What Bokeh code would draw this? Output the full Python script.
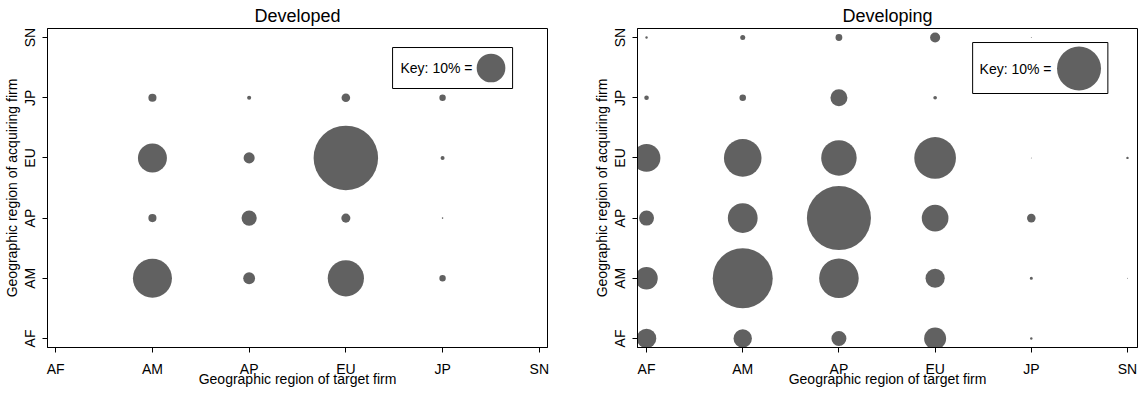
from bokeh.plotting import figure
from bokeh.layouts import row
from bokeh.models import Range1d, FixedTicker, BoxAnnotation, Label, ColumnDataSource
from bokeh.embed import file_html
from bokeh.resources import INLINE
import numpy as np

regions = ["AF", "AM", "AP", "EU", "JP", "SN"]

# Developed: target region (x), acquirer region (y), share of deals (%)
dev_target = ["AM", "AP", "EU", "JP",
              "AM", "AP", "EU", "JP",
              "AM", "AP", "EU", "JP",
              "AM", "AP", "EU", "JP"]
dev_acquirer = ["JP", "JP", "JP", "JP",
                "EU", "EU", "EU", "EU",
                "AP", "AP", "AP", "AP",
                "AM", "AM", "AM", "AM"]
dev_share = [0.8, 0.2, 0.9, 0.5,
             10.2, 1.5, 50.5, 0.2,
             0.8, 2.8, 1.0, 0.03,
             18.5, 1.7, 15.9, 0.5]

# Developing
dvg_target = ["AF", "AM", "AP", "EU", "JP",
              "AF", "AM", "AP", "EU",
              "AF", "AM", "AP", "EU", "JP", "SN",
              "AF", "AM", "AP", "EU", "JP",
              "AF", "AM", "AP", "EU", "JP", "SN",
              "AF", "AM", "AP", "EU", "JP"]
dvg_acquirer = ["SN", "SN", "SN", "SN", "SN",
                "JP", "JP", "JP", "JP",
                "EU", "EU", "EU", "EU", "EU", "EU",
                "AP", "AP", "AP", "AP", "AP",
                "AM", "AM", "AM", "AM", "AM", "AM",
                "AF", "AF", "AF", "AF", "AF"]
dvg_share = [0.03, 0.13, 0.24, 0.52, 0.005,
             0.11, 0.22, 1.49, 0.07,
             3.96, 7.3, 6.5, 8.98, 0.005, 0.03,
             1.16, 4.59, 21.2, 3.68, 0.38,
             2.6, 18.6, 8.1, 1.9, 0.05, 0.005,
             1.96, 1.75, 1.16, 2.5, 0.03]

key_share = 10
key_label = "Key: 10% ="
x_title = "Geographic region of target firm"
y_title = "Geographic region of acquiring firm"

FONT = "Liberation Sans"
BUBBLE = "#616161"


def panel(title, target, acquirer, share, key_d, xr, key_box, key_text, key_pt,
          bl, br):
    p = figure(frame_width=500, frame_height=319,
               x_range=Range1d(*xr), y_range=Range1d(-0.15, 5.15),
               output_backend="svg", toolbar_location=None,
               min_border_left=bl, min_border_right=br,
               min_border_top=28, min_border_bottom=37)
    p.title.text = title
    p.title.text_font = FONT
    p.title.text_font_size = "18px"
    p.title.text_font_style = "normal"
    p.title.text_color = "black"
    p.title.align = "center"
    p.title.standoff = 6
    p.title.offset = 0
    p.xgrid.visible = False
    p.ygrid.visible = False
    p.outline_line_color = "black"
    p.outline_line_alpha = 1
    p.background_fill_color = "white"
    p.border_fill_color = "white"

    ticks = list(range(len(regions)))
    overrides = {i: r for i, r in enumerate(regions)}
    for ax in (p.xaxis[0], p.yaxis[0]):
        ax.ticker = FixedTicker(ticks=ticks)
        ax.major_label_overrides = overrides
        ax.minor_tick_line_color = None
        ax.major_tick_out = 5
        ax.major_tick_in = 0
        ax.major_tick_line_color = "black"
        ax.axis_line_color = "black"
        ax.major_label_text_font = FONT
        ax.major_label_text_font_size = "14px"
        ax.major_label_text_color = "black"
        ax.axis_label_text_font = FONT
        ax.axis_label_text_font_size = "14px"
        ax.axis_label_text_font_style = "normal"
        ax.axis_label_text_color = "black"
    p.xaxis.axis_label = x_title
    p.yaxis.axis_label = y_title
    p.xaxis.major_label_standoff = 8
    p.xaxis.axis_label_standoff = -9
    p.yaxis.major_label_standoff = 4
    p.yaxis.axis_label_standoff = 0
    p.yaxis.major_label_orientation = "vertical"

    xs = [regions.index(t) for t in target]
    ys = [regions.index(a) for a in acquirer]
    sizes = key_d * np.sqrt(np.array(share) / key_share)
    src = ColumnDataSource(dict(x=xs, y=ys, s=sizes))
    p.scatter("x", "y", size="s", source=src, fill_color=BUBBLE,
              line_color=None)

    # key
    p.add_layout(BoxAnnotation(left=key_box[0], right=key_box[1],
                               bottom=key_box[2], top=key_box[3],
                               fill_color="white", fill_alpha=1,
                               line_color="black", line_width=1,
                               line_alpha=1))
    p.add_layout(Label(x=key_text[0], y=key_text[1], text=key_label,
                       text_font=FONT, text_font_size="14px",
                       text_baseline="middle", text_align="left",
                       text_color="black"))
    p.scatter([key_pt[0]], [key_pt[1]], size=key_d, fill_color=BUBBLE,
              line_color=None, level="overlay")
    return p


p1 = panel("Developed", dev_target, dev_acquirer, dev_share, 28.7,
           (-0.085, 5.085), (3.483, 4.724, 4.153, 4.834), (3.565, 4.494),
           (4.501, 4.494), 40, 40)
p2 = panel("Developing", dvg_target, dvg_acquirer, dvg_share, 44.0,
           (-0.094, 5.104), (3.39, 4.796, 4.07, 4.917), (3.462, 4.485),
           (4.496, 4.485), 50, 1)

layout = row(p1, p2)
open("out.html", "w").write(file_html(layout, INLINE))
